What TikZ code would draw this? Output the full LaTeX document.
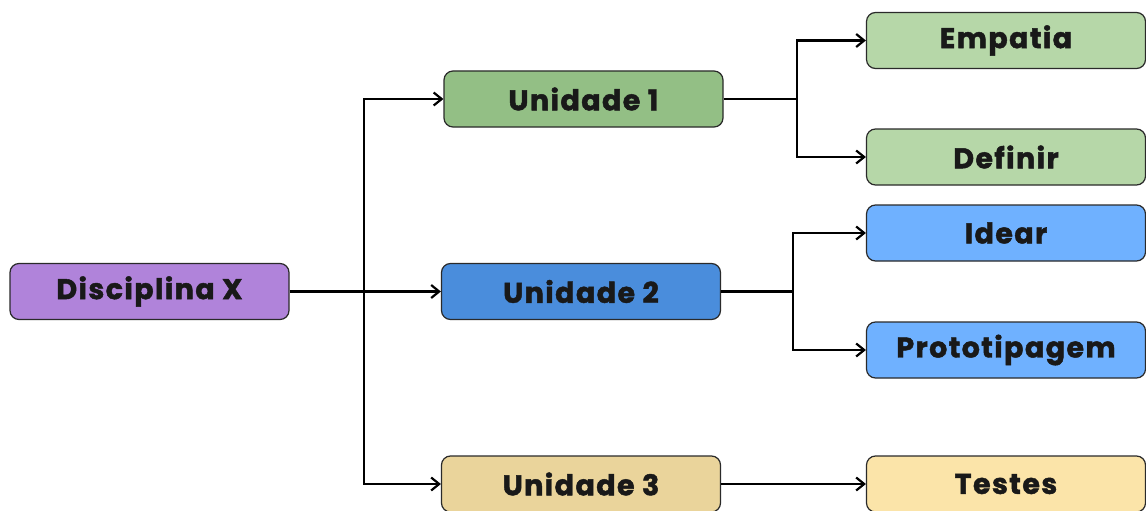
\documentclass[tikz,border=0pt]{standalone}
\usepackage{fontspec}
\setmainfont{Poppins}[BoldFeatures={FakeBold=1.6,LetterSpace=5}]
\usetikzlibrary{arrows.meta}
\definecolor{cPurple}{HTML}{B083DA}
\definecolor{cGreenD}{HTML}{93BF85}
\definecolor{cGreenL}{HTML}{B6D7A8}
\definecolor{cBlueD}{HTML}{4A8DDC}
\definecolor{cBlueL}{HTML}{6FB1FF}
\definecolor{cYellowD}{HTML}{EAD49B}
\definecolor{cYellowL}{HTML}{FBE4A9}
\definecolor{cEdge}{HTML}{2A2A2A}
\tikzset{
  box/.style={draw=cEdge, line width=1.2pt, rounded corners=9pt, minimum width=279pt, minimum height=56pt, inner sep=0pt, font=\fontsize{28.5}{32}\selectfont\bfseries, text=black!90},
  arr/.style={line width=2.4pt, -{Straight Barb[length=8pt,width=13pt,line width=2.2pt]}},
  ln/.style={line width=2.4pt}
}
\begin{document}
\begin{tikzpicture}[x=1pt,y=-1pt]
\useasboundingbox[fill=white] (0,0) rectangle (1146,511);
\node[box, fill=cPurple] (d) at (149.5,291.5) {Disciplina X};
\node[box, fill=cGreenD] (u1) at (583.5,99) {Unidade 1};
\node[box, fill=cBlueD] (u2) at (581,291.5) {Unidade 2};
\node[box, fill=cYellowD] (u3) at (581,484) {Unidade 3};
\node[box, fill=cGreenL] (e) at (1006,40.5) {Empatia};
\node[box, fill=cGreenL] (df) at (1006,157) {Definir};
\node[box, fill=cBlueL] (i) at (1006,233) {Idear};
\node[box, fill=cBlueL] (p) at (1006,350) {Prototipagem};
\node[box, fill=cYellowL] (t) at (1006,484) {Testes};
\coordinate (j0) at (364,291.5);
\coordinate (j1) at (797,99);
\coordinate (j2) at (793,291.5);
\draw[arr] (d) -- (u2);
\draw[arr] (j0) |- (u1.west);
\draw[arr] (j0) |- (u3.west);
\draw[ln] (u1.east) -- (j1);
\draw[arr] (j1) |- (e.west);
\draw[arr] (j1) |- (df.west);
\draw[ln] (u2.east) -- (j2);
\draw[arr] (j2) |- (i.west);
\draw[arr] (j2) |- (p.west);
\draw[arr] (u3) -- (t);
\end{tikzpicture}
\end{document}
